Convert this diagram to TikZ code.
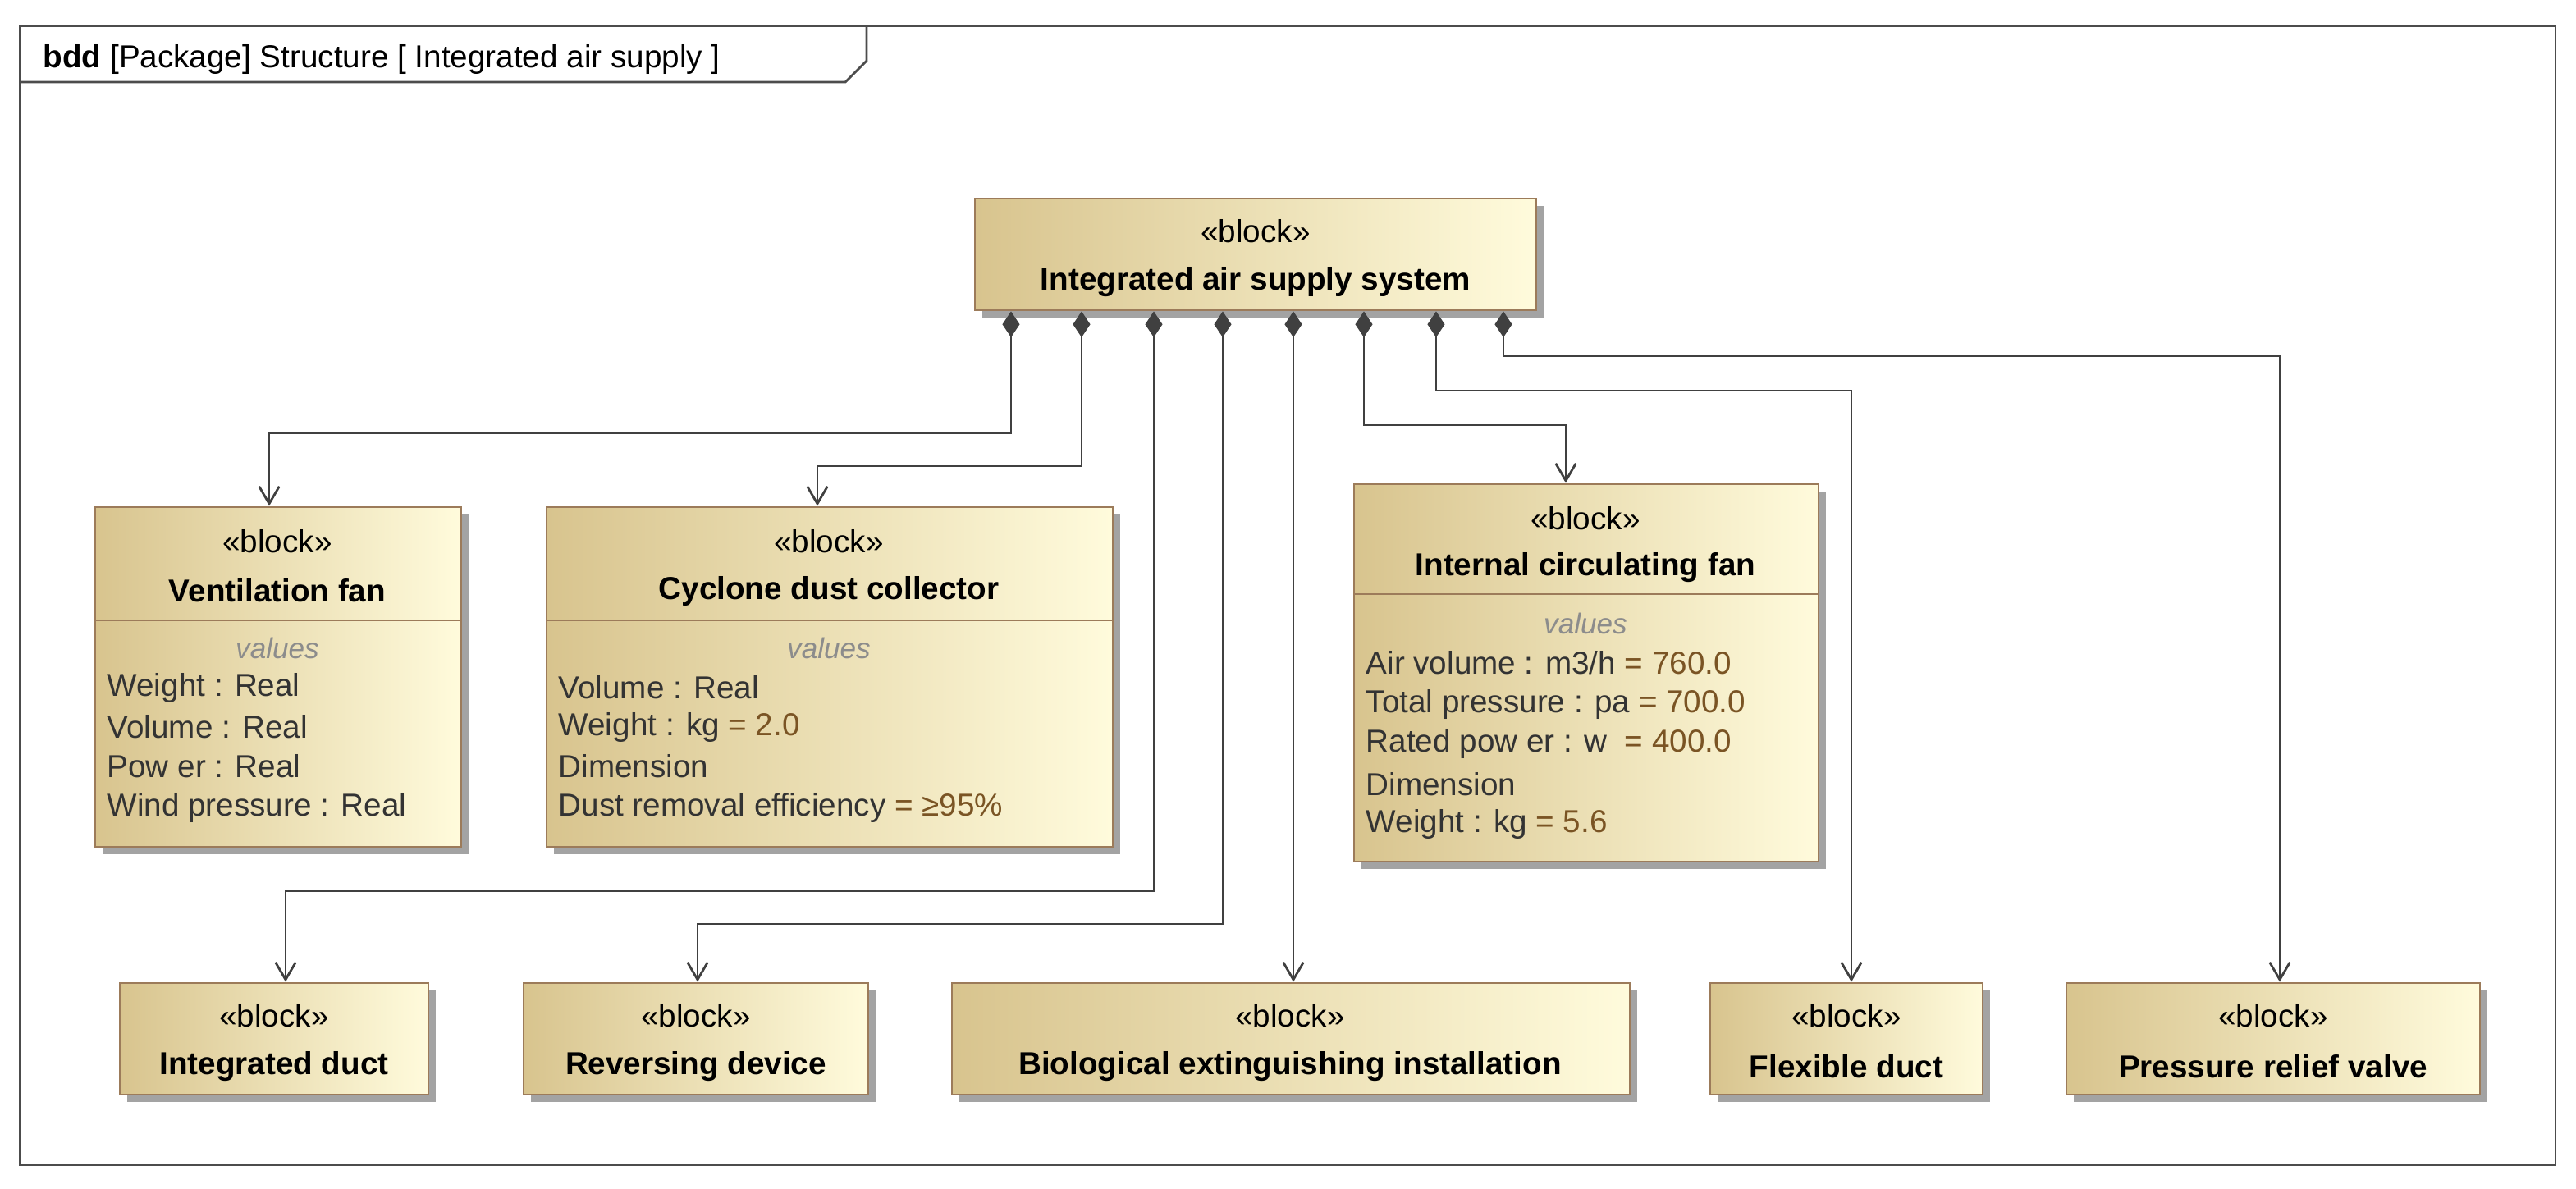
\documentclass[tikz,border=0pt]{standalone}
\usepackage{fontspec}
\setmainfont{Liberation Sans}
\usetikzlibrary{arrows.meta,fit,shadows}
\definecolor{bord}{HTML}{9C7B5A}
\definecolor{dark}{HTML}{D8C48E}
\definecolor{light}{HTML}{FFFBDC}
\definecolor{valc}{HTML}{7A5424}
\tikzset{
 blk/.style={draw=bord, line width=0.8pt, left color=dark, right color=light, inner sep=0pt,
   drop shadow={shadow xshift=2.5pt, shadow yshift=-2.5pt, fill=black!45, opacity=0.8}},
 st/.style={font=\fontsize{11}{13}\selectfont, inner sep=0pt},
 nm/.style={font=\fontsize{11}{13}\selectfont\bfseries, inner sep=0pt},
 vl/.style={font=\fontsize{11}{13}\selectfont, anchor=west, inner sep=0pt, text=black!80},
 vh/.style={font=\fontsize{10}{12}\selectfont\itshape, text=black!45, inner sep=0pt},
 comp/.style={draw=black!75, line width=0.8pt, {Diamond[length=9pt,width=6pt,fill=black!75]}-{Straight Barb[length=6pt,width=7pt]}},
}
\begin{document}
\begin{tikzpicture}[x=0.02cm,y=-0.02cm]
\useasboundingbox (0,0) rectangle (1569.5,724);
% frame
\draw[black!70, line width=0.8pt] (12,16) rectangle (1557,710);
\draw[black!70, line width=0.8pt] (12,50) -- (515,50) -- (528,37) -- (528,16);
\node[anchor=west, font=\fontsize{11}{13}\selectfont, inner sep=0] (title) at (26,36) {\textbf{bdd} [Package] Structure [ Integrated air supply ]};
% top
\node[blk, fit={(594,121)(936,189)}] (top) {};
\node[st] (topS) at (765,141) {«block»};
\node[nm] (topN) at (765,172) {Integrated air supply system};
% ventilation fan
\node[blk, fit={(58,309)(281,516)}] (vent) {};
\draw[bord, line width=0.8pt] (58,378) -- (281,378);
\node[st] (ventS) at (169,330) {«block»};
\node[nm] (ventN) at (169,360) {Ventilation fan};
\node[vh] (ventV) at (169,395) {values};
\node[vl] (v1) at (65,419) {Weight : Real};
\node[vl] (v2) at (65,443) {Volume : Real};
\node[vl] (v3) at (65,467) {Pow er : Real};
\node[vl] (v4) at (65,492) {Wind pressure : Real};
% cyclone
\node[blk, fit={(333,309)(678,516)}] (cyc) {};
\draw[bord, line width=0.8pt] (333,378) -- (678,378);
\node[st] (cycS) at (505,330) {«block»};
\node[nm] (cycN) at (505,360) {Cyclone dust collector};
\node[vh] (cycV) at (505,395) {values};
\node[vl] (c1) at (340,419) {Volume : Real};
\node[vl] (c2) at (340,443) {Weight : kg \textcolor{valc}{= 2.0}};
\node[vl] (c3) at (340,467) {Dimension};
\node[vl] (c4) at (340,492) {Dust removal efficiency \textcolor{valc}{= ≥95\%}};
% internal fan
\node[blk, fit={(825,295)(1108,525)}] (icf) {};
\draw[bord, line width=0.8pt] (825,362) -- (1108,362);
\node[st] (icfS) at (966,316) {«block»};
\node[nm] (icfN) at (966,346) {Internal circulating fan};
\node[vh] (icfV) at (966,380) {values};
\node[vl] (i1) at (832,404) {Air volume : m3/h \textcolor{valc}{= 760.0}};
\node[vl] (i2) at (832,429) {Total pressure : pa \textcolor{valc}{= 700.0}};
\node[vl] (i3) at (832,453) {Rated pow er : w \ \textcolor{valc}{= 400.0}};
\node[vl] (i4) at (832,478) {Dimension};
\node[vl] (i5) at (832,502) {Weight : kg \textcolor{valc}{= 5.6}};
% bottom row
\node[blk, fit={(73,599)(261,667)}] (idu) {};
\node[st] at (167,619) {«block»}; \node[nm] at (167,650) {Integrated duct};
\node[blk, fit={(319,599)(529,667)}] (rev) {};
\node[st] at (424,619) {«block»}; \node[nm] at (424,650) {Reversing device};
\node[blk, fit={(580,599)(993,667)}] (bio) {};
\node[st] at (786,619) {«block»}; \node[nm] at (786,650) {Biological extinguishing installation};
\node[blk, fit={(1042,599)(1208,667)}] (flex) {};
\node[st] at (1125,619) {«block»}; \node[nm] at (1125,650) {Flexible duct};
\node[blk, fit={(1259,599)(1511,667)}] (prv) {};
\node[st] at (1385,619) {«block»}; \node[nm] at (1385,650) {Pressure relief valve};
% connectors
\draw[comp] (top.south -| 616,0) -- (616,264) -- (164,264) -- (vent.north -| 164,0);
\draw[comp] (top.south -| 659,0) -- (659,284) -- (498,284) -- (cyc.north -| 498,0);
\draw[comp] (top.south -| 703,0) -- (703,543) -- (174,543) -- (idu.north -| 174,0);
\draw[comp] (top.south -| 745,0) -- (745,563) -- (425,563) -- (rev.north -| 425,0);
\draw[comp] (top.south -| 788,0) -- (bio.north -| 788,0);
\draw[comp] (top.south -| 831,0) -- (831,259) -- (954,259) -- (icf.north -| 954,0);
\draw[comp] (top.south -| 875,0) -- (875,238) -- (1128,238) -- (flex.north -| 1128,0);
\draw[comp] (top.south -| 916,0) -- (916,217) -- (1389,217) -- (prv.north -| 1389,0);
\end{tikzpicture}
\end{document}
